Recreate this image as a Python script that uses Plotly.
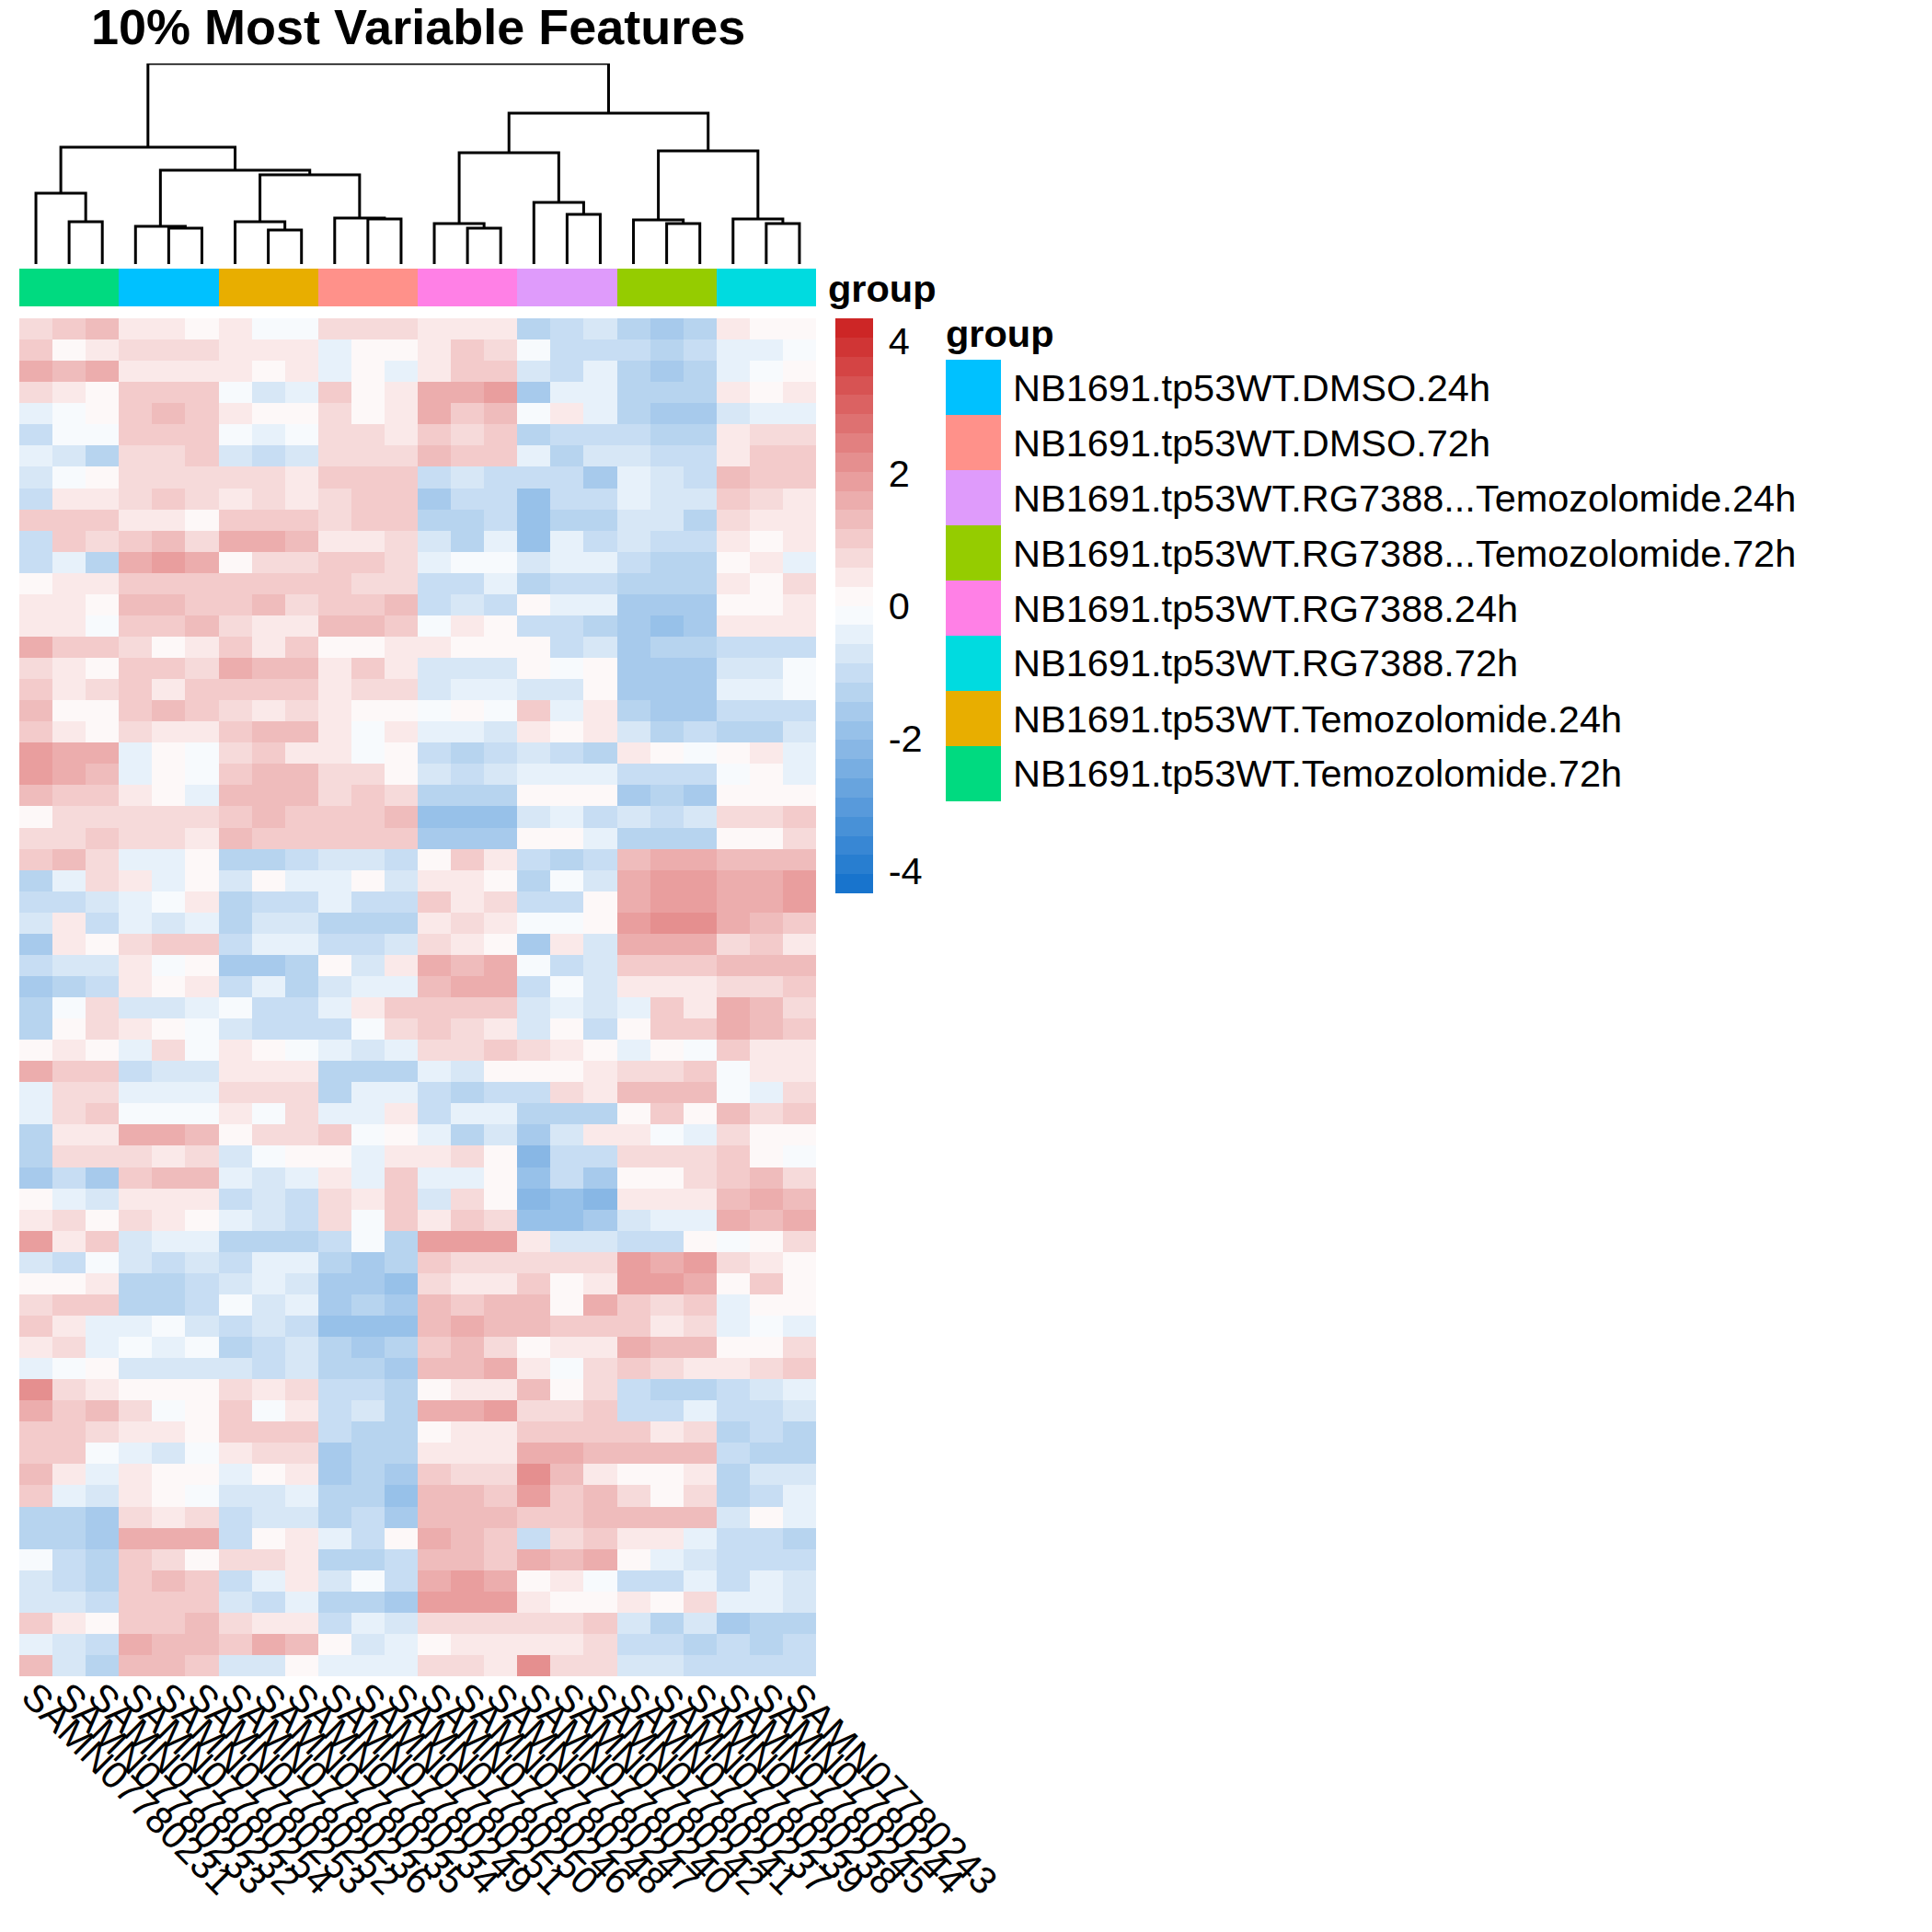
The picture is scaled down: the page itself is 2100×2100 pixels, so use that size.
import plotly.graph_objects as go

sample_names = ["SAMN07780231", "SAMN07780233", "SAMN07780232", "SAMN07780254", "SAMN07780253", "SAMN07780252",
                "SAMN07780236", "SAMN07780235", "SAMN07780234", "SAMN07780249", "SAMN07780251", "SAMN07780250",
                "SAMN07780246", "SAMN07780248", "SAMN07780247", "SAMN07780240", "SAMN07780242", "SAMN07780241",
                "SAMN07780237", "SAMN07780239", "SAMN07780238", "SAMN07780245", "SAMN07780244", "SAMN07780243"]

group_names = ["NB1691.tp53WT.DMSO.24h", "NB1691.tp53WT.DMSO.72h",
               "NB1691.tp53WT.RG7388...Temozolomide.24h", "NB1691.tp53WT.RG7388...Temozolomide.72h",
               "NB1691.tp53WT.RG7388.24h", "NB1691.tp53WT.RG7388.72h",
               "NB1691.tp53WT.Temozolomide.24h", "NB1691.tp53WT.Temozolomide.72h"]
group_colors = ["#00C1FF", "#FF918A", "#DF9BFB", "#95CC00", "#FF80E6", "#00DBE0", "#E8AE00", "#00DA80"]
column_group = [7, 7, 7, 0, 0, 0, 6, 6, 6, 1, 1, 1, 4, 4, 4, 2, 2, 2, 3, 3, 3, 5, 5, 5]

# hclust style merges: negative = leaf number, positive = earlier merge (1 based)
merge_left = [-2, -1, -5, -4, -8, -7, -11, -10, -14, -13, -17, -16, -20, -19, -23, -22, 6, 4, 2, 10, 14, 20, 19]
merge_right = [-3, 1, -6, 3, -9, 5, -12, 7, -15, 9, -18, 11, -21, 13, -24, 15, 8, 17, 18, 12, 16, 21, 22]
merge_height = [46, 77, 39, 41, 37, 46, 49, 50, 39, 44, 54, 67, 44, 48, 44, 49, 97, 102, 127, 121, 123, 164, 218]

scale_ticks = [-4, -2, 0, 2, 4]
scale_limit = 4.34

rows_a = [
    [.6, 1.0, 1.2, .3, .3, .1, .4, -.1, -.2, .8, .6, .6, .3, .5, .5, -1.2, -.9, -.8, -1.4, -1.5, -1.4, .4, .0, .1],
    [1.0, .2, .4, .8, .7, .7, .5, .4, .4, -.5, .2, .0, .4, 1.0, .8, -.2, -1.0, -1.0, -1.0, -1.2, -1.0, -.3, -.3, -.1],
    [1.7, 1.4, 1.7, .5, .5, .5, .3, .0, .3, -.3, .2, -.4, .5, .9, .9, -.8, -.9, -.4, -1.2, -1.7, -1.2, -.5, -.2, .2],
    [.7, .3, .1, 1.1, 1.1, 1.1, -.1, -.7, -.4, 1.0, .0, .3, 1.6, 1.6, 1.8, -1.5, -.4, -.4, -1.2, -1.4, -1.4, .3, .0, .4],
    [-.4, -.2, .0, 1.1, 1.2, .9, .3, .2, .2, .6, .2, .3, 1.6, 1.1, 1.4, -.2, .3, -.3, -1.2, -1.5, -1.6, -.6, -.5, -.3],
    [-1.0, -.2, -.1, .9, .9, .9, -.2, -.3, -.2, .8, .6, .5, 1.0, .8, 1.0, -1.4, -1.1, -1.1, -1.1, -1.2, -1.4, .4, .6, .7],
    [-.4, -.8, -1.2, .7, .8, .9, -.6, -.9, -.8, .7, .6, .6, 1.2, .9, 1.0, -.4, -1.3, -.7, -.7, -1.0, -1.1, .3, .9, .9],
    [-.8, -.2, .2, .7, .8, .7, .7, .7, .5, .9, .9, 1.1, -1.0, -.8, -1.1, -1.0, -1.1, -1.5, -.4, -.6, -.9, 1.2, .9, .9],
    [-1.0, .5, .4, .8, .9, .8, .4, .8, .5, .8, 1.0, 1.0, -1.5, -1.1, -1.0, -2.0, -1.1, -1.1, -.4, -.7, -.7, 1.0, .7, .3],
    [.9, 1.0, 1.0, .4, .5, .2, 1.1, .9, 1.1, .8, 1.0, 1.1, -1.2, -1.3, -.9, -1.8, -1.3, -1.4, -.6, -.8, -1.2, .7, .5, .4],
    [-1.0, .9, .6, 1.0, 1.2, .7, 1.5, 1.6, 1.4, .3, .3, .7, -.7, -1.3, -.4, -1.8, -.4, -.9, -.7, -.9, -.9, .3, .1, .4],
    [-1.1, -.3, -1.2, 1.6, 1.9, 1.7, .2, .7, .6, .9, 1.1, .8, -.4, -.2, -.1, -.7, -.3, -.4, -1.0, -1.2, -1.2, .2, .3, -.4],
    [.2, .5, .3, 1.1, 1.0, 1.1, 1.0, 1.0, 1.0, 1.0, .7, .6, -.9, -.9, -.5, -1.2, -1.1, -.9, -1.2, -1.4, -1.3, .4, .1, .8],
    [.3, .3, .2, 1.3, 1.2, 1.0, 1.0, 1.3, .8, 1.0, 1.1, 1.2, -1.1, -.8, -1.0, .1, -.5, -.5, -1.6, -1.6, -1.5, .1, .1, .5],
    [.5, .3, -.2, 1.1, 1.0, 1.2, .7, .4, .5, 1.2, 1.3, 1.1, -.1, .4, .1, -1.0, -1.0, -1.4, -1.6, -1.9, -1.7, .3, .3, .4],
    [1.5, 1.0, 1.1, .7, .2, .3, .9, .5, .9, .0, .2, .4, .4, .2, .0, .1, -1.0, -.8, -1.5, -1.4, -1.3, -1.1, -1.1, -1.0],
]
rows_b = [
    [.6, .3, .2, 1.0, .9, .8, 1.6, 1.2, 1.2, .3, .9, .4, -.8, -.8, -.6, .1, -.2, .2, -1.5, -1.7, -1.5, -.7, -.7, -.2],
    [1.0, .4, .6, 1.1, .5, 1.0, 1.1, 1.0, .9, .5, .7, .7, -.6, -.4, -.3, -.6, -.8, .2, -1.6, -1.6, -1.6, -.3, -.3, -.1],
    [1.3, .2, .1, 1.1, 1.2, 1.0, .8, .5, .7, .4, .2, .2, -.1, .0, -.1, .9, -.4, .3, -1.4, -1.5, -1.6, -1.0, -.9, -.9],
    [1.0, .4, .1, .7, .3, .5, 1.0, 1.4, 1.4, .4, -.2, .5, -.3, -.3, -.8, .3, .0, .3, -.7, -1.2, -.9, -1.2, -1.2, -.8],
    [1.8, 1.5, 1.6, -.4, .1, -.2, .8, .9, .4, .3, -.1, .2, -1.1, -1.2, -1.0, -.6, -.9, -1.3, .3, .1, -.1, .0, .3, -.3],
    [1.9, 1.5, 1.4, -.3, .0, -.1, 1.1, 1.4, 1.3, .8, .7, .0, -.8, -1.0, -.8, -.3, -.4, -.3, -1.0, -1.0, -.9, -.1, .2, -.4],
    [1.3, 1.1, 1.1, .3, .1, -.3, 1.2, 1.2, 1.2, .8, 1.0, .8, -1.4, -1.4, -1.3, .1, .0, .2, -1.5, -1.4, -1.5, .2, .1, .1],
    [.2, .6, .6, .7, .6, .6, 1.0, 1.2, 1.1, 1.0, 1.0, 1.2, -1.9, -1.8, -1.9, -.8, -.3, -1.1, -.7, -.9, -.8, .6, .6, .9],
    [.8, .8, .9, .7, .6, .5, 1.2, 1.1, 1.1, .9, 1.0, .9, -1.7, -1.7, -1.6, .2, .1, -.3, -1.2, -1.3, -1.2, .2, .2, .6],
    [.9, 1.2, .8, -.4, -.3, .0, -1.4, -1.2, -1.1, -.6, -.8, -.9, .1, .9, .3, -1.0, -1.2, -1.0, 1.4, 1.7, 1.6, 1.2, 1.2, 1.3],
    [-1.4, -.4, .6, .3, -.3, .2, -.6, .1, -.3, -.5, .0, -.7, .3, .3, .0, -1.3, -.2, -.8, 1.6, 2.0, 1.9, 1.7, 1.7, 1.8],
    [-1.1, -1.0, -.8, -.3, -.2, .4, -1.2, -.9, -1.0, -.3, -1.0, -.9, 1.0, .5, .6, -.9, -1.1, .0, 1.7, 1.8, 1.8, 1.6, 1.7, 1.8],
    [-.6, .3, -.9, -.5, -.8, -.3, -1.2, -.7, -.8, -1.2, -1.4, -1.4, .4, .8, .3, -.1, -.2, .1, 2.0, 2.1, 2.1, 1.5, 1.3, 1.1],
    [-1.5, .5, .2, .7, 1.0, 1.0, -1.0, -.3, -.5, -1.0, -1.0, -.7, .6, .3, .1, -1.6, .3, -.8, 1.6, 1.5, 1.7, .6, .9, .5],
    [-1.1, -.6, -.7, .3, -.1, .1, -1.6, -1.5, -1.4, .2, -.6, .5, 1.7, 1.4, 1.5, -.2, -.9, -.6, 1.1, 1.0, 1.0, 1.3, 1.2, 1.3],
    [-1.5, -1.2, -1.0, .5, .2, .4, -.9, -.5, -1.2, -.6, -.5, -.5, 1.4, 1.5, 1.7, -1.0, -.1, -.7, .4, .5, .5, .8, .7, 1.0],
]
rows_c = [
    [-1.3, -.1, .6, -.6, -.6, -.3, -.2, -1.0, -1.1, -.3, .3, 1.0, .9, 1.0, 1.0, -.8, -.5, -.6, -.4, .9, .3, 1.6, 1.4, .8],
    [-1.2, .0, .8, .4, .1, -.2, -.8, -1.0, -1.0, -1.0, -.2, .7, 1.0, .7, .3, -.7, .0, -1.0, .2, 1.0, 1.0, 1.7, 1.3, 1.0],
    [.0, .3, .1, -.5, .8, -.1, .5, .2, -.2, -.4, -.6, -.4, .6, .7, .9, .6, .5, .1, -.5, .2, -.1, 1.0, .4, .3],
    [1.5, .9, 1.1, -.9, -.6, -.7, .3, .4, .5, -1.4, -1.4, -1.3, -.3, -.8, .0, .2, .1, .3, .6, .8, 1.0, -.2, .4, .3],
    [-.3, .6, .8, -.5, -.3, -.4, .8, .7, .8, -1.2, -.3, -.5, -.9, -1.2, -1.1, -.9, .8, .5, 1.2, 1.2, 1.2, -.2, -.3, .8],
    [-.3, .6, 1.1, -.1, -.2, -.2, .5, -.1, .6, -.4, -.5, .4, -.9, -.4, -.5, -1.3, -1.2, -1.4, .2, .9, .2, 1.3, .8, 1.0],
    [-1.3, .4, .5, 1.7, 1.6, 1.4, .2, .7, .6, 1.0, -.2, .2, -.4, -1.2, -.6, -1.7, -.7, .3, .3, -.2, -.5, .6, .2, .1],
    [-1.2, .8, .8, .6, .5, .8, -.7, -.1, .1, .2, -.3, .3, .4, .7, .1, -2.2, -1.0, -1.1, .7, .7, .7, .9, .2, -.1],
    [-1.5, -.9, -1.6, 1.0, 1.2, 1.3, -.4, -.7, -.3, .4, -.5, 1.0, -.4, -.4, .2, -2.0, -1.1, -1.5, .1, .1, .7, .9, 1.4, .7],
    [.1, -.3, -.7, .5, .5, .4, -1.1, -.8, -1.0, .7, .5, 1.1, -.7, .6, .2, -2.3, -2.0, -2.2, .5, .4, .5, 1.3, 1.6, 1.3],
    [.3, .8, .1, .8, .4, .2, -.5, -.8, -1.0, .7, -.2, 1.0, .5, .9, .6, -1.9, -1.9, -1.6, -.6, -.4, -.5, 1.5, 1.4, 1.6],
    [1.9, .3, .9, -.8, -.3, -.5, -1.2, -1.4, -1.3, -1.0, -.2, -1.4, 1.9, 2.0, 2.0, .5, -.8, -.6, -1.1, -1.0, .1, -.2, .1, .7],
    [-.6, -1.0, -.2, -.8, -.9, -.7, -.9, -.4, -.5, -1.4, -1.6, -1.2, .9, .8, .6, .8, .7, .6, 1.9, 1.7, 1.8, .6, .4, .2],
    [.0, .1, .3, -1.2, -1.4, -1.1, -.6, -.4, -.6, -1.7, -1.7, -1.8, .7, .5, .4, .9, .2, .5, 1.9, 1.8, 1.7, .1, .9, .1],
    [.6, 1.0, 1.0, -1.4, -1.4, -1.0, -.1, -.7, -.5, -1.6, -1.4, -1.6, 1.3, 1.1, 1.2, 1.4, .2, 1.5, 1.0, .8, 1.0, -.4, .1, .1],
    [1.1, .3, -.3, -.5, -.1, -.8, -1.0, -.7, -1.0, -1.9, -1.8, -2.0, 1.3, 1.5, 1.2, 1.3, .9, .9, .9, .3, .7, -.5, -.2, -.3],
]
rows_d = [
    [.3, .7, -.3, -.1, -.3, -.1, -1.4, -1.0, -.8, -1.2, -1.5, -1.3, 1.1, 1.2, .8, .0, .3, .3, 1.5, 1.4, 1.2, .0, .2, .7],
    [-.4, -.2, .1, -.6, -.6, -.8, -.8, -1.1, -.8, -1.3, -1.2, -1.6, 1.2, 1.3, 1.5, .4, -.1, .8, .9, .6, .4, .5, .7, 1.0],
    [2.2, .8, .3, .2, .2, .2, .6, .3, .6, -1.0, -.9, -1.3, .0, .3, .3, 1.2, .0, .8, -1.0, -1.2, -1.2, -1.1, -.6, -.4],
    [1.6, 1.0, 1.2, .7, -.2, .0, .9, -.1, .3, -1.0, -.7, -1.2, 1.6, 1.7, 1.8, .6, .7, .9, -1.0, -1.0, -.4, -1.0, -.9, -.8],
    [1.1, 1.1, .7, .3, .5, .0, 1.0, .9, 1.0, -.9, -1.3, -1.3, .2, .4, .3, 1.0, 1.1, 1.0, .9, .4, .8, -1.2, -1.0, -1.4],
    [1.0, .9, -.1, -.5, -.8, -.2, .5, .6, .8, -1.6, -1.4, -1.3, .5, .3, .3, 1.7, 1.5, 1.4, 1.3, 1.2, 1.4, -1.1, -1.3, -1.2],
    [1.3, .3, -.3, .3, .2, .2, -.5, .1, .4, -1.5, -1.4, -1.5, .9, .8, .6, 2.2, 1.4, .5, .2, .2, .3, -1.4, -.6, -.6],
    [1.0, -.5, -.6, .3, .2, -.2, -.6, -.7, -.4, -1.4, -1.3, -1.8, 1.4, 1.2, 1.1, 2.0, .9, 1.4, .6, .1, .8, -1.2, -.9, -.5],
    [-1.3, -1.4, -1.5, .6, .3, .6, -.9, -.6, -.6, -1.3, -.9, -1.6, 1.2, 1.3, 1.2, 1.0, .9, 1.2, 1.3, 1.2, 1.3, -.7, .1, -.4],
    [-1.4, -1.2, -1.6, 1.5, 1.6, 1.7, -1.0, .2, .3, -.5, -1.1, .0, 1.5, 1.4, 1.1, -.9, .6, .9, .4, .3, -.5, -1.0, -1.0, -1.3],
    [-.1, -.9, -1.2, 1.0, .6, .1, .8, .7, .3, -1.2, -1.2, -1.0, 1.4, 1.3, .9, 1.6, 1.2, 1.6, .0, -.3, -.8, -1.1, -1.0, -1.1],
    [-.6, -.9, -1.2, 1.1, 1.2, 1.0, -1.0, -.4, .5, -.6, -.1, -1.0, 1.6, 1.8, 1.6, .2, .4, -.2, -1.1, -1.1, -.3, -.9, -.5, -.8],
    [-.7, -.6, -.9, 1.1, 1.1, 1.0, -.6, -1.0, -.5, -1.2, -1.2, -1.5, 1.9, 1.9, 1.9, .3, .2, .0, .4, .2, .7, -.4, -.5, -.8],
    [.9, .4, .2, 1.1, .9, 1.2, .8, .5, .4, -.9, -.3, -.8, .6, .8, .6, .7, .7, .9, -.7, -1.3, -.8, -1.6, -1.3, -1.2],
    [-.5, -.7, -1.0, 1.5, 1.3, 1.3, 1.1, 1.5, 1.2, .1, -.6, -.4, .2, .5, .3, .3, .4, .7, -1.0, -1.1, -1.2, -1.1, -1.2, -1.0],
    [1.4, -.7, -1.3, 1.2, 1.3, 1.0, -.6, -.6, .0, -.3, -.4, -.3, .7, .8, .4, 2.1, .6, .6, -.7, -.7, -1.0, -.9, -1.1, -1.0],
]

matrix = rows_a + rows_b + rows_c + rows_d
font_name = "Liberation Sans"


def px_x(p):
    return p / 2100


def px_y(p):
    return 1 - p / 2100


def ramp(a, b, t):
    return tuple(round(a[i] + (b[i] - a[i]) * t) for i in range(3))


# same 30 step blue/white/red ramp as the key
low, mid, high = (24, 116, 205), (255, 255, 255), (205, 38, 38)
heat_scale = []
for i in range(30):
    t = i / 29
    c = ramp(low, mid, t * 2) if t < 0.5 else ramp(mid, high, (t - 0.5) * 2)
    heat_scale.append([i / 30, f"rgb{c}"])
    heat_scale.append([(i + 1) / 30, f"rgb{c}"])

group_scale = []
for i, c in enumerate(group_colors):
    group_scale.append([i / 8, c])
    group_scale.append([(i + 1) / 8, c])

# walk the merges to get the dendrogram segments
node_x = {}
node_h = {}
dend_x = []
dend_y = []
for n, (l, r, h) in enumerate(zip(merge_left, merge_right, merge_height), start=1):
    xl = -l if l < 0 else node_x[l]
    xr = -r if r < 0 else node_x[r]
    hl = 0 if l < 0 else node_h[l]
    hr = 0 if r < 0 else node_h[r]
    dend_x += [xl, xl, xr, xr, None]
    dend_y += [hl, h, h, hr, None]
    node_x[n] = (xl + xr) / 2
    node_h[n] = h

columns = list(range(1, 25))
fig = go.Figure()
fig.add_trace(go.Heatmap(
    z=matrix, x=columns, y=list(range(len(matrix))), colorscale=heat_scale,
    zmin=-scale_limit, zmax=scale_limit, hoverinfo="skip",
    colorbar=dict(
        x=px_x(908), xanchor="left", xpad=0, y=px_y(658.5), yanchor="middle", ypad=0,
        lenmode="pixels", len=625, thicknessmode="pixels", thickness=41,
        outlinewidth=0, borderwidth=0, tickmode="array", tickvals=scale_ticks,
        ticktext=[str(v) for v in scale_ticks], ticks="outside", ticklen=9,
        tickcolor="rgba(0,0,0,0)", tickfont=dict(family=font_name, size=41.5, color="black"),
    ),
))
fig.add_trace(go.Heatmap(
    z=[column_group], x=columns, y=[0], xaxis="x2", yaxis="y2", colorscale=group_scale,
    zmin=-0.5, zmax=7.5, showscale=False, hoverinfo="skip",
))
fig.add_trace(go.Heatmap(
    z=[[i] for i in range(8)], x=[0], y=list(range(8)), xaxis="x3", yaxis="y3", colorscale=group_scale,
    zmin=-0.5, zmax=7.5, showscale=False, hoverinfo="skip",
))
fig.add_trace(go.Scatter(
    x=dend_x, y=dend_y, xaxis="x4", yaxis="y4", mode="lines", hoverinfo="skip",
    line=dict(color="black", width=3), showlegend=False,
))

hidden = dict(visible=False, showgrid=False, zeroline=False)
col_range = [0.5, 24.5]
fig.update_layout(
    width=2100, height=2100, autosize=False, paper_bgcolor="white", plot_bgcolor="white",
    margin=dict(l=0, r=0, t=0, b=0, autoexpand=False), showlegend=False,
    xaxis=dict(domain=[px_x(21), px_x(887)], range=col_range, showgrid=False, zeroline=False, showline=False,
               tickmode="array", tickvals=columns, ticktext=sample_names, tickangle=45, ticks="",
               ticklabelstandoff=-12, ticklabelshift=-3,
               tickfont=dict(family=font_name, size=41.5, color="black"), anchor="y"),
    yaxis=dict(domain=[px_y(1822), px_y(346)], range=[len(matrix) - 0.5, -0.5], **hidden),
    xaxis2=dict(domain=[px_x(21), px_x(887)], range=col_range, anchor="y2", **hidden),
    yaxis2=dict(domain=[px_y(333), px_y(292)], range=[-0.5, 0.5], anchor="x2", **hidden),
    xaxis3=dict(domain=[px_x(1028), px_x(1088)], range=[-0.5, 0.5], anchor="y3", **hidden),
    yaxis3=dict(domain=[px_y(871), px_y(391)], range=[7.5, -0.5], anchor="x3", **hidden),
    xaxis4=dict(domain=[px_x(21), px_x(887)], range=col_range, anchor="y4", **hidden),
    yaxis4=dict(domain=[px_y(287), px_y(69)], range=[0, 218], anchor="x4", **hidden),
)


def label(text, x, y, size=41.5, xanchor="left"):
    fig.add_annotation(text=text, x=px_x(x), y=px_y(y), xref="paper", yref="paper", showarrow=False,
                       xanchor=xanchor, yanchor="middle", borderpad=0,
                       font=dict(family=font_name, size=size, color="black"))


label("<b>10% Most Variable Features</b>", 454, 29, size=54, xanchor="center")
label("<b>group</b>", 899, 314)
label("<b>group</b>", 1027, 362)
for i, name in enumerate(group_names):
    label(name, 1100, 421 + i * 60)

fig.write_html("out.html", config={"displayModeBar": False},
               post_script="document.body.style.margin='0';document.body.style.overflow='hidden';")
